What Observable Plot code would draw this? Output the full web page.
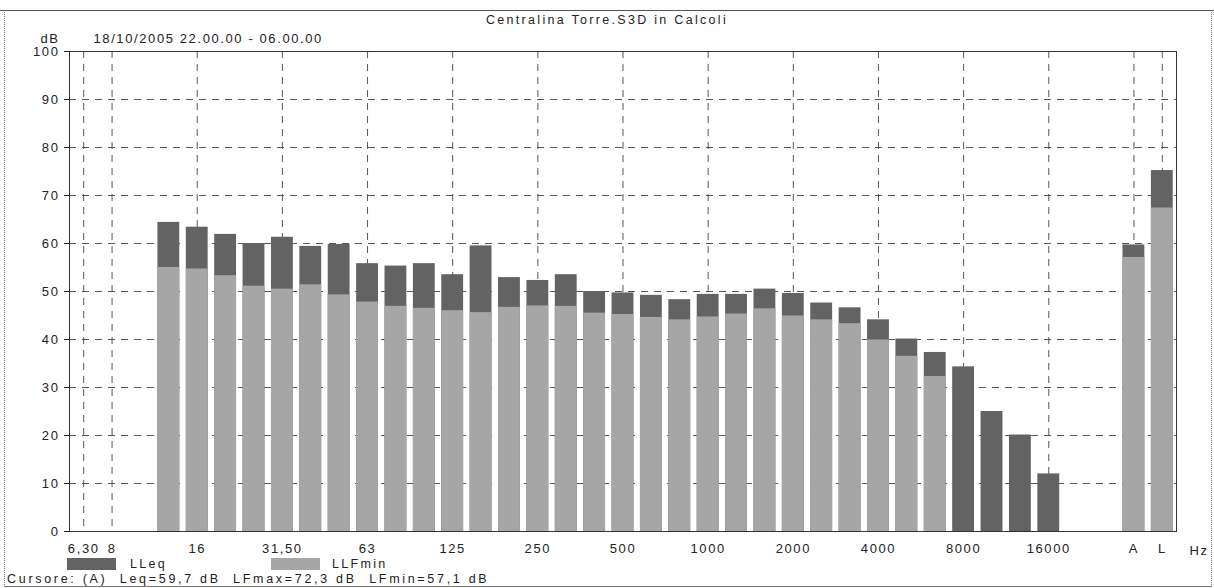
<!DOCTYPE html>
<html><head><meta charset="utf-8">
<script src="https://cdn.jsdelivr.net/npm/d3@7"></script>
<script src="https://cdn.jsdelivr.net/npm/@observablehq/plot@0.6"></script>
<style>
body{margin:0;background:#fff;}
#wrap{position:relative;width:1214px;height:588px;overflow:hidden;font-family:"Liberation Sans",Arial,sans-serif;color:#222;background:#fff;}
.t{position:absolute;font-size:12.5px;letter-spacing:2.3px;white-space:pre;line-height:14px;}
#chart{position:absolute;left:0;top:30px;}
.sw{position:absolute;height:12px;width:49px;}
</style></head><body>
<div id="wrap">
  <div style="position:absolute;left:0;top:10px;width:1214px;border-top:1px solid #555"></div>
  <div style="position:absolute;left:4px;top:10px;height:577px;border-left:1px dotted #777"></div>
  <div style="position:absolute;left:1211px;top:10px;height:577px;border-left:1px dotted #777"></div>
  <div style="position:absolute;left:4px;top:586px;width:1207px;border-top:1px solid #777"></div>
  <div id="title" class="t" style="left:0;width:1214px;text-align:center;top:13px;"></div>
  <div id="chart"></div>
  <div id="legend"></div>
  <div id="cursor" class="t" style="left:7px;top:572px;letter-spacing:2.7px;"></div>
</div>
<script>
const title = "Centralina Torre.S3D in Calcoli";
const dateText = "18/10/2005 22.00.00 - 06.00.00";
const cursorText = "Cursore: (A)  Leq=59,7 dB  LFmax=72,3 dB  LFmin=57,1 dB";
const seriesNames = ["LLeq", "LLFmin"];
const seriesColors = ["#636363", "#a6a6a6"];

const bands = ["6.3","8","10","12.5","16","20","25","31.5","40","50","63","80","100","125","160","200","250","315","400","500","630","800","1000","1250","1600","2000","2500","3150","4000","5000","6300","8000","10000","12500","16000","20000","gap","A","L"];
const lleq = [null,null,null,64.4,63.4,61.9,60.0,61.3,59.4,59.8,55.8,55.3,55.8,53.5,59.5,52.9,52.3,53.5,50.0,49.7,49.2,48.3,49.4,49.4,50.5,49.6,47.6,46.6,44.1,40.1,37.3,34.3,25.0,20.1,12.0,null,null,59.7,75.2];
const llfmin = [null,null,null,55.0,54.7,53.3,51.1,50.5,51.4,49.3,47.8,46.9,46.5,46.0,45.6,46.7,47.0,46.9,45.5,45.2,44.6,44.1,44.7,45.3,46.4,44.9,44.1,43.3,39.9,36.5,32.3,null,null,null,null,null,null,57.1,67.4];
const tickBands = ["6.3","8","16","31.5","63","125","250","500","1000","2000","4000","8000","16000","A","L"];
const tickLabels = ["6,30","8","16","31,50","63","125","250","500","1000","2000","4000","8000","16000","A","L"];
const yTicks = [0,10,20,30,40,50,60,70,80,90,100];
const gridY = [10,20,30,40,50,60,70,80,90];

const labelOf = new Map(tickBands.map((b,i)=>[b,tickLabels[i]]));
const rows = bands.map((b,i)=>({band:b, leq:lleq[i], fmin:llfmin[i]}));

document.getElementById("title").textContent = title;
document.getElementById("cursor").textContent = cursorText;

const chart = Plot.plot({
  width: 1214, height: 530,
  marginLeft: 69, marginRight: 38, marginTop: 21, marginBottom: 29,
  x: {domain: bands, type: "band", paddingInner: 0.23, paddingOuter: 0.115, round: false},
  y: {domain: [0, 100]},
  style: {fontFamily: '"Liberation Sans", Arial, sans-serif', fontSize: "13px", letterSpacing: "1.6px", color: "#222", background: "transparent", overflow: "visible"},
  marks: [
    Plot.ruleY(gridY, {stroke: "#444", strokeDasharray: "7,6", strokeWidth: 0.9}),
    Plot.ruleX(tickBands, {x: d => d, stroke: "#444", strokeDasharray: "7,6", strokeWidth: 0.9}),
    Plot.barY(rows.filter(d => d.leq != null), {x: "band", y: "leq", fill: seriesColors[0]}),
    Plot.barY(rows.filter(d => d.fmin != null), {x: "band", y: "fmin", fill: seriesColors[1]}),
    Plot.frame({stroke: "#333"}),
    Plot.axisY({ticks: yTicks, tickSize: 5, tickPadding: 5, label: null}),
    Plot.axisX({ticks: tickBands, tickFormat: d => labelOf.get(d), tickSize: 0, tickPadding: 12, label: null}),
    Plot.text(["dB"], {frameAnchor: "top-left", textAnchor: "end", lineAnchor: "bottom", dx: -10, dy: -9, text: d => d}),
    Plot.text([dateText], {frameAnchor: "top-left", textAnchor: "start", lineAnchor: "bottom", dx: 24, dy: -9, text: d => d, letterSpacing: "2.1px"}),
    Plot.text(["Hz"], {frameAnchor: "bottom-right", textAnchor: "start", lineAnchor: "top", dx: 13, dy: 14, text: d => d})
  ]
});
document.getElementById("chart").appendChild(chart);

const legend = document.getElementById("legend");
const legendPos = [[67, 130], [271, 332]];
seriesNames.forEach((name, i) => {
  const sw = document.createElement("div");
  sw.className = "sw";
  sw.style.left = legendPos[i][0] + "px";
  sw.style.top = "558px";
  sw.style.background = seriesColors[i];
  legend.appendChild(sw);
  const tx = document.createElement("div");
  tx.className = "t";
  tx.style.left = legendPos[i][1] + "px";
  tx.style.top = "557px";
  tx.textContent = name;
  legend.appendChild(tx);
});
</script>
</body></html>
